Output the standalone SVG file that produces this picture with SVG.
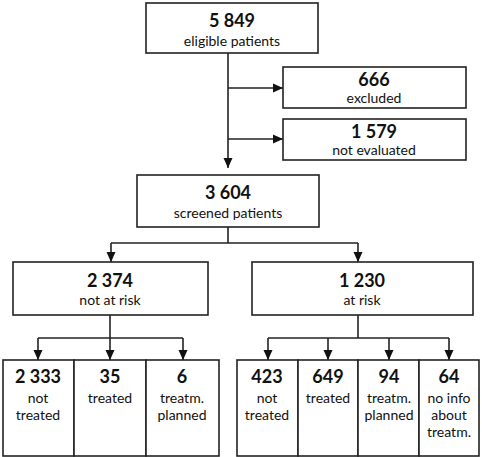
<svg xmlns="http://www.w3.org/2000/svg" width="482" height="457" viewBox="0 0 482 457">
<defs>
<marker id="ah" markerWidth="11" markerHeight="11" refX="10" refY="5" orient="auto" markerUnits="userSpaceOnUse">
<path d="M0,0.5 L10,5 L0,9.5 Z" fill="#111"/>
</marker>
<style>
rect{fill:#fff;stroke:#222;stroke-width:1.6}
.c path{fill:none;stroke:#222;stroke-width:1.6}
text{font-family:Lato,"Liberation Sans",sans-serif;fill:#111;text-anchor:middle}
.n{font-size:18px;font-weight:bold}
.s{font-size:14px}
</style>
</defs>
<rect x="0" y="0" width="482" height="457" style="fill:#fff;stroke:none"/>
<g class="c">
<path d="M228,53 V168" marker-end="url(#ah)"/>
<path d="M228,88 H283" marker-end="url(#ah)"/>
<path d="M228,139 H283" marker-end="url(#ah)"/>
<path d="M228,227 V243"/>
<path d="M111,243 H358"/>
<path d="M111,243 V262" marker-end="url(#ah)"/>
<path d="M358,243 V262" marker-end="url(#ah)"/>
<path d="M110,315 V338"/>
<path d="M38,338 H183"/>
<path d="M38,338 V360" marker-end="url(#ah)"/>
<path d="M110,338 V360" marker-end="url(#ah)"/>
<path d="M183,338 V360" marker-end="url(#ah)"/>
<path d="M358,315 V338"/>
<path d="M268,338 H449"/>
<path d="M268,338 V360" marker-end="url(#ah)"/>
<path d="M328,338 V360" marker-end="url(#ah)"/>
<path d="M389,338 V360" marker-end="url(#ah)"/>
<path d="M449,338 V360" marker-end="url(#ah)"/>
</g>
<g id="eligible">
<rect x="146" y="3" width="172" height="50"/>
<text class="n" x="232" y="27">5 849</text>
<text class="s" x="232" y="46">eligible patients</text>
</g>
<g id="excluded">
<rect x="283" y="67" width="183" height="41"/>
<text class="n" x="374" y="86">666</text>
<text class="s" x="374" y="103">excluded</text>
</g>
<g id="notevaluated">
<rect x="283" y="119" width="183" height="41"/>
<text class="n" x="374" y="138">1 579</text>
<text class="s" x="374" y="155">not evaluated</text>
</g>
<g id="screened">
<rect x="137" y="175" width="182" height="52"/>
<text class="n" x="228" y="199">3 604</text>
<text class="s" x="228" y="218">screened patients</text>
</g>
<g id="notatrisk">
<rect x="13" y="262" width="195" height="53"/>
<text class="n" x="110" y="287">2 374</text>
<text class="s" x="110" y="305">not at risk</text>
</g>
<g id="atrisk">
<rect x="252" y="262" width="221" height="53"/>
<text class="n" x="362" y="287">1 230</text>
<text class="s" x="362" y="305">at risk</text>
</g>
<g id="nar-nottreated">
<rect x="3" y="360" width="71" height="96"/>
<text class="n" x="38" y="383">2 333</text>
<text class="s" x="38" y="403">not</text>
<text class="s" x="38" y="420">treated</text>
</g>
<g id="nar-treated">
<rect x="74" y="360" width="72" height="96"/>
<text class="n" x="110" y="383">35</text>
<text class="s" x="110" y="403">treated</text>
</g>
<g id="nar-planned">
<rect x="146" y="360" width="73" height="96"/>
<text class="n" x="182" y="383">6</text>
<text class="s" x="182" y="403">treatm.</text>
<text class="s" x="182" y="420">planned</text>
</g>
<g id="ar-nottreated">
<rect x="237" y="360" width="61" height="96"/>
<text class="n" x="267" y="383">423</text>
<text class="s" x="267" y="403">not</text>
<text class="s" x="267" y="420">treated</text>
</g>
<g id="ar-treated">
<rect x="298" y="360" width="60" height="96"/>
<text class="n" x="328" y="383">649</text>
<text class="s" x="328" y="403">treated</text>
</g>
<g id="ar-planned">
<rect x="358" y="360" width="61" height="96"/>
<text class="n" x="389" y="383">94</text>
<text class="s" x="389" y="403">treatm.</text>
<text class="s" x="389" y="420">planned</text>
</g>
<g id="ar-noinfo">
<rect x="419" y="360" width="60" height="96"/>
<text class="n" x="449" y="383">64</text>
<text class="s" x="449" y="403">no info</text>
<text class="s" x="449" y="420">about</text>
<text class="s" x="449" y="437">treatm.</text>
</g>
</svg>
